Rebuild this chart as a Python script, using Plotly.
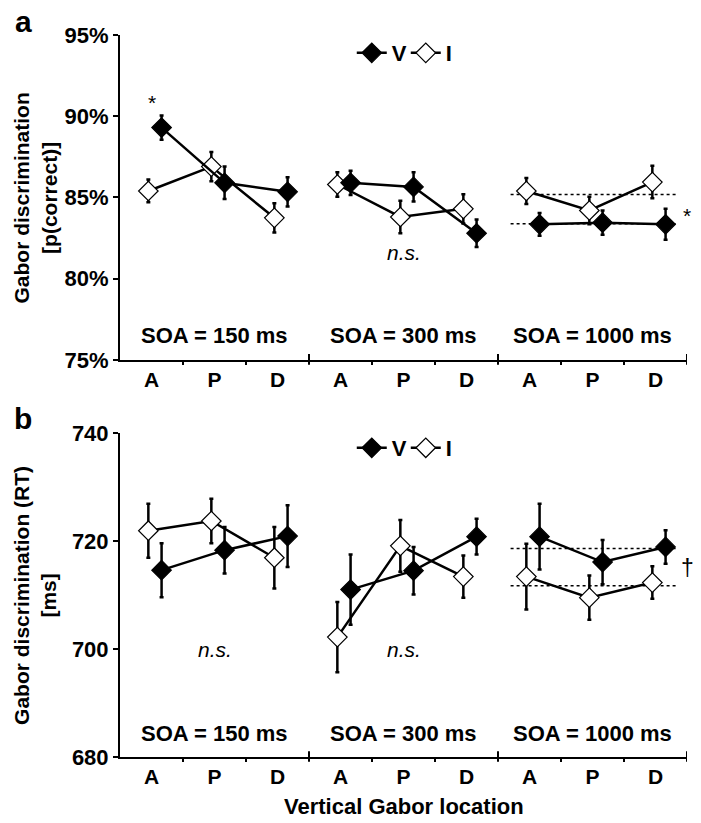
import plotly.graph_objects as go

# ---------------- data ----------------
locations = ["A", "P", "D", "A", "P", "D", "A", "P", "D"]
soa_labels = ["SOA = 150 ms", "SOA = 300 ms", "SOA = 1000 ms"]

# panel a: accuracy (%)
acc_V = [89.3, 85.9, 85.35, 85.9, 85.65, 82.8, 83.35, 83.45, 83.35]
acc_V_err = [0.75, 1.0, 0.9, 0.75, 0.9, 0.85, 0.7, 0.75, 0.95]
acc_I = [85.4, 86.9, 83.75, 85.8, 83.8, 84.3, 85.4, 84.2, 85.95]
acc_I_err = [0.7, 0.9, 0.9, 0.75, 1.0, 0.9, 0.8, 0.85, 1.0]
acc_ticks = [75, 80, 85, 90, 95]
acc_ticktext = ["75%", "80%", "85%", "90%", "95%"]

# panel b: RT (ms)
rt_V = [714.6, 718.3, 720.9, 711.0, 714.5, 720.8, 720.8, 716.1, 718.9]
rt_V_err = [5.0, 4.3, 5.7, 6.5, 4.4, 3.3, 6.1, 4.1, 3.1]
rt_I = [721.9, 723.7, 716.9, 702.2, 719.1, 713.4, 713.4, 709.5, 712.3]
rt_I_err = [5.0, 4.1, 5.7, 6.5, 4.8, 3.9, 6.1, 4.1, 3.0]
rt_ticks = [680, 700, 720, 740]

FONT = "Liberation Sans, Arial, sans-serif"
OFF_V, OFF_I = 0.16, -0.05


def with_breaks(xs, ys, errs):
    """Insert None between SOA groups so lines connect only within groups."""
    X, Y, E = [], [], []
    for i, (x, y, e) in enumerate(zip(xs, ys, errs)):
        if i > 0 and i % 3 == 0:
            X.append(None); Y.append(None); E.append(None)
        X.append(x); Y.append(y); E.append(e)
    return X, Y, E


fig = go.Figure()

panels = [
    ("x", "y", acc_V, acc_V_err, acc_I, acc_I_err, "legend"),
    ("x2", "y2", rt_V, rt_V_err, rt_I, rt_I_err, "legend2"),
]
for xa, ya, v, ve, iv, ie, lg in panels:
    xs = list(range(len(locations)))
    # dotted mean lines for SOA = 1000 ms
    for series in (v, iv):
        m = sum(series[6:9]) / 3.0
        fig.add_trace(go.Scatter(
            x=[5.7, 8.36], y=[m, m], xaxis=xa, yaxis=ya, mode="lines",
            line=dict(color="black", width=1.5, dash="dot"),
            showlegend=False, hoverinfo="skip",
        ))
    # I (invalid) -- open diamonds
    X, Y, E = with_breaks([x + OFF_I for x in xs], iv, ie)
    fig.add_trace(go.Scatter(
        x=X, y=Y, xaxis=xa, yaxis=ya, name="I", legend=lg,
        mode="lines+markers", connectgaps=False,
        line=dict(color="black", width=2.5),
        marker=dict(symbol="diamond", size=15, color="white",
                    line=dict(color="black", width=1.2)),
        error_y=dict(type="data", array=E, color="black", thickness=2.5, width=2),
        legendrank=2,
    ))
    # V (valid) -- filled diamonds
    X, Y, E = with_breaks([x + OFF_V for x in xs], v, ve)
    fig.add_trace(go.Scatter(
        x=X, y=Y, xaxis=xa, yaxis=ya, name="V", legend=lg,
        mode="lines+markers", connectgaps=False,
        line=dict(color="black", width=2.5),
        marker=dict(symbol="diamond", size=15, color="black",
                    line=dict(color="black", width=1.2)),
        error_y=dict(type="data", array=E, color="black", thickness=2.5, width=2),
        legendrank=1,
    ))

axis_common = dict(
    showline=True, linecolor="black", linewidth=2, showgrid=False, zeroline=False,
)
xcommon = dict(
    axis_common, range=[-0.5, 8.5], tickmode="array",
    tickvals=list(range(9)), ticktext=locations, ticks="",
    tickfont=dict(family=FONT, size=21, color="black", weight="bold"),
    minor=dict(tickvals=[0.5, 1.5, 3.5, 4.5, 6.5, 7.5], ticks="outside",
               ticklen=3, tickwidth=1.5, tickcolor="black"),
)
ycommon = dict(
    axis_common, ticks="outside", ticklen=5, tickwidth=2, tickcolor="black",
    tickfont=dict(family=FONT, size=22, color="black", weight="bold"),
)

leg_font = dict(family=FONT, size=22, color="black", weight="bold")
# (the page body adds 8 px around the figure; size/margins compensate for it)
fig.update_layout(
    width=693, height=815,
    margin=dict(l=112, r=14, t=27, b=66),
    paper_bgcolor="white", plot_bgcolor="white",
    xaxis=dict(xcommon, anchor="y", domain=[0, 1]),
    yaxis=dict(ycommon, range=[75, 95], tickmode="array", tickvals=acc_ticks,
               ticktext=acc_ticktext, domain=[0.5499, 1], anchor="x"),
    xaxis2=dict(xcommon, anchor="y2", domain=[0, 1]),
    yaxis2=dict(ycommon, range=[680, 740], tickmode="array", tickvals=rt_ticks,
                domain=[0, 0.4488], anchor="x2"),
    legend=dict(orientation="h", x=0.504, xanchor="center", y=0.975, yanchor="middle",
                font=leg_font, bgcolor="rgba(0,0,0,0)", itemwidth=30,
                entrywidth=9, entrywidthmode="pixels"),
    legend2=dict(orientation="h", x=0.504, xanchor="center", y=0.428, yanchor="middle",
                 font=leg_font, bgcolor="rgba(0,0,0,0)", itemwidth=30,
                 entrywidth=9, entrywidthmode="pixels"),
    showlegend=True,
)

# group separator ticks (crossing the axis)
for xr, yr in (("x", "y domain"), ("x2", "y2 domain")):
    for sx in (2.5, 5.5, 8.5):
        fig.add_shape(type="line", xref=xr, yref=yr, x0=sx, x1=sx, y0=-0.015, y1=0.018,
                      line=dict(color="black", width=2))

ann = []
lab_font = dict(family=FONT, size=22, color="black", weight="bold")
for k, s in enumerate(soa_labels):
    ann.append(dict(x=3 * k + 1, y=76.5, xref="x", yref="y", text=s, showarrow=False,
                    font=lab_font))
    ann.append(dict(x=3 * k + 1, y=684.4, xref="x2", yref="y2", text=s, showarrow=False,
                    font=lab_font))
ns_font = dict(family=FONT, size=21, color="black", style="italic")
ann += [
    dict(x=4, y=81.6, xref="x", yref="y", text="n.s.", showarrow=False, font=ns_font),
    dict(x=1, y=699.9, xref="x2", yref="y2", text="n.s.", showarrow=False, font=ns_font),
    dict(x=4, y=699.9, xref="x2", yref="y2", text="n.s.", showarrow=False, font=ns_font),
    dict(x=0.0, y=90.85, xref="x", yref="y", text="*", showarrow=False,
         font=dict(family=FONT, size=21, color="black")),
    dict(x=8.5, y=83.9, xref="x", yref="y", text="*", showarrow=False, xanchor="center",
         font=dict(family=FONT, size=21, color="black")),
    dict(x=8.5, y=715.0, xref="x2", yref="y2", text="†", showarrow=False, xanchor="center",
         font=dict(family=FONT, size=23, color="black")),
    # panel letters
    dict(x=-0.171, y=1.0, xref="paper", yref="paper", text="a", showarrow=False,
         xanchor="center", yanchor="middle",
         font=dict(family=FONT, size=30, color="black", weight="bold"), yshift=14),
    dict(x=-0.171, y=0.4488, xref="paper", yref="paper", text="b", showarrow=False,
         xanchor="center", yanchor="middle",
         font=dict(family=FONT, size=30, color="black", weight="bold"), yshift=14),
    # y titles
    dict(x=-0.150, y=0.7749, xref="paper", yref="paper",
         text="Gabor discrimination<br>[p(correct)]", showarrow=False, textangle=-90,
         xanchor="center", yanchor="middle",
         font=dict(family=FONT, size=21, color="black", weight="bold")),
    dict(x=-0.150, y=0.2244, xref="paper", yref="paper",
         text="Gabor discrimination (RT)<br>[ms]", showarrow=False, textangle=-90,
         xanchor="center", yanchor="middle",
         font=dict(family=FONT, size=21, color="black", weight="bold")),
    # x title
    dict(x=0.5, y=0, xref="paper", yref="paper", text="Vertical Gabor location",
         showarrow=False, xanchor="center", yanchor="middle", yshift=-49, font=lab_font),
]
fig.update_layout(annotations=ann)

fig.write_html("out.html")
